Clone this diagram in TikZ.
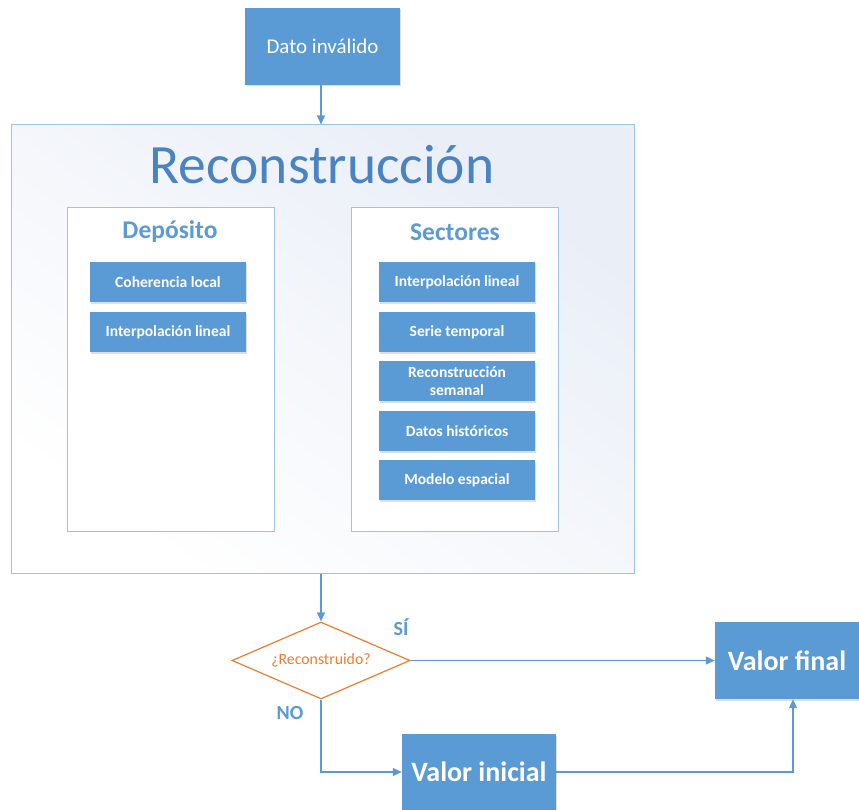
\documentclass[tikz,border=0pt]{standalone}
\usepackage{fontspec}
\setmainfont{Carlito}
\usetikzlibrary{arrows.meta,shapes.geometric,shadows}
\definecolor{boxblue}{HTML}{5B9BD5}
\definecolor{lineblue}{HTML}{9DC3E6}
\definecolor{titleblue}{HTML}{4A83C2}
\definecolor{bgtint}{HTML}{E9EEF7}
\definecolor{orangeline}{HTML}{ED7D31}
\tikzset{
  bluebox/.style={draw=none, fill=boxblue, text=white, inner sep=0pt, align=center,
    drop shadow={opacity=0.25, shadow xshift=1pt, shadow yshift=-1.5pt}},
  smallbox/.style={bluebox, minimum width=156pt, minimum height=40pt,
    font=\fontsize{15.5}{18}\selectfont\bfseries},
  bigbox/.style={bluebox, font=\fontsize{28}{30}\selectfont\bfseries},
  container/.style={draw=lineblue, line width=1pt, fill=white, inner sep=0pt},
  conn/.style={draw=boxblue, line width=1.2pt, -{Triangle[length=9pt,width=8pt]}},
  lbl/.style={text=boxblue, font=\fontsize{20}{22}\selectfont\bfseries, inner sep=0pt},
  head/.style={text=boxblue, font=\fontsize{25.5}{28}\selectfont\bfseries, inner sep=0pt}
}
\begin{document}
\begin{tikzpicture}[x=1pt,y=-1pt]
\useasboundingbox[fill=white] (0,0) rectangle (859,810);

% top input
\node[bluebox, minimum width=155pt, minimum height=77pt,
  font=\fontsize{21}{23}\selectfont] (dato) at (322.5,46.5) {Dato inválido};

% big container
\node[draw=lineblue, line width=1pt, inner sep=0pt, minimum width=623pt, minimum height=448pt,
  left color=bgtint, right color=white, shading angle=-35] (recon) at (322.5,349) {};
\node[text=titleblue, font=\fontsize{55.5}{60}\selectfont, inner sep=0pt] (title) at (322,165) {Reconstrucción};

% inner containers
\node[container, minimum width=207pt, minimum height=323pt] (dep) at (170.5,369.5) {};
\node[container, minimum width=207pt, minimum height=323pt] (sec) at (454.5,369.5) {};
\node[head] (deph) at (170,232) {Depósito};
\node[head] (sech) at (455,232) {Sectores};

% deposit boxes
\node[smallbox] (d1) at (168,282) {Coherencia local};
\node[smallbox] (d2) at (168,332) {Interpolación lineal};

% sector boxes
\node[smallbox] (s1) at (457,282) {Interpolación lineal};
\node[smallbox] (s2) at (457,332) {Serie temporal};
\node[smallbox] (s3) at (457,381) {Reconstrucción\\semanal};
\node[smallbox] (s4) at (457,431) {Datos históricos};
\node[smallbox] (s5) at (457,480) {Modelo espacial};

% decision
\node[diamond, draw=orangeline, line width=1.2pt, fill=white, inner sep=0pt, aspect=2.3,
  minimum width=178pt, minimum height=77pt, text=orangeline,
  font=\fontsize{15.8}{17}\selectfont] (dm) at (321,660.5) {¿Reconstruido?};

% outputs
\node[bigbox, minimum width=144pt, minimum height=77pt] (vf) at (787,660.5) {Valor final};
\node[bigbox, minimum width=154pt, minimum height=76pt] (vi) at (479,772) {Valor inicial};

% labels
\node[lbl] (si) at (401,627) {SÍ};
\node[lbl] (no) at (290,713) {NO};

% connectors
\draw[conn] (dato.south -| dm.north) -- (recon.north -| dm.north);
\draw[conn] (recon.south -| dm.north) -- (dm.north);
\draw[conn] (dm.east) -- (vf.west);
\draw[conn] (dm.south) |- (vi.west);
\draw[conn] (vi.east) -| ([xshift=6pt]vf.south);
\end{tikzpicture}
\end{document}
